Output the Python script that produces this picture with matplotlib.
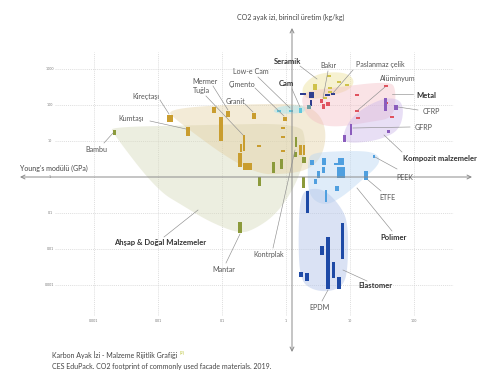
import matplotlib
matplotlib.use('Agg')
import matplotlib.pyplot as plt
from matplotlib.transforms import Affine2D
import numpy as np

plt.rcParams['font.family'] = ['Lato', 'DejaVu Sans']

# material boxes: (E low, E high, CO2 low, CO2 high)  E in GPa, CO2 in kg/kg
stone = [
    (0.014, 0.017, 34, 53),       # Kireçtaşı
    (0.027, 0.032, 14, 24),       # Kumtaşı
    (0.070, 0.081, 60, 88),
    (0.115, 0.133, 46, 68),       # Mermer
    (0.090, 0.104, 10, 46),
    (0.29, 0.34, 41, 60),         # Granit
    (0.21, 0.23, 5.3, 14.7),      # Tuğla
    (0.188, 0.209, 5.0, 8.2),
    (0.181, 0.202, 1.9, 4.6),
    (0.213, 0.294, 1.56, 2.45),
    (0.90, 1.04, 36, 46),         # Çimento
    (0.835, 0.965, 21.5, 24.5),
    (0.835, 0.965, 12.1, 13.8),
    (0.835, 0.965, 4.95, 5.6),
    (0.35, 0.41, 6.8, 7.7),
    (1.62, 1.75, 4.1, 7.7),
    (1.84, 1.98, 4.1, 7.7),
]
wood = [
    (0.00195, 0.00217, 14.7, 20.2),  # Bambu
    (0.181, 0.202, 0.028, 0.056),    # Mantar
    (0.36, 0.40, 0.56, 1.0),
    (0.615, 0.685, 1.29, 2.61),
    (0.81, 0.91, 1.67, 3.16),
    (1.36, 1.51, 6.8, 12.9),
    (1.31, 1.46, 3.6, 4.95),
    (1.81, 2.02, 2.45, 3.6),
    (1.75, 1.95, 0.49, 1.0),         # Kontrplak
]
glass = [
    (0.72, 0.835, 64, 72.6),
    (1.11, 1.29, 64, 72.6),
    (1.62, 1.81, 60, 82.5),
]
ceramic = [
    (2.64, 3.05, 261, 383),
    (4.37, 5.05, 600, 681),
    (6.26, 7.23, 408, 464),
    (8.35, 9.64, 337, 383),
    (4.53, 5.23, 278, 316),
    (4.53, 5.23, 215, 245),
    (3.79, 4.37, 147, 167),
]
dark_metal = [
    (1.66, 2.05, 190, 215),
    (2.25, 2.69, 156, 230),
    (2.33, 2.59, 94, 138),
    (4.0, 4.79, 178, 202),
    (5.05, 5.83, 190, 215),
]
teal = [(2.13, 2.46, 77, 100)]
metal = [
    (3.34, 3.72, 114, 147),
    (3.59, 4.0, 77, 107),
    (4.29, 4.79, 94, 121),
    (12.0, 13.8, 178, 202),
    (34, 39.3, 316, 359),        # Alüminyum
    (12.0, 13.8, 64, 72.6),
    (12.4, 14.3, 40.8, 46.4),
    (42.2, 48.7, 43.6, 49.6),
    (36.5, 39.3, 107, 121),
]
composite = [
    (33.4, 37.2, 68, 156),       # CFRP
    (48.7, 56.2, 72.6, 100),
    (9.83, 10.9, 14.7, 29.7),    # GFRP
    (7.64, 8.51, 9.4, 14.7),
    (38.5, 42.9, 16.7, 20.2),
]
polymer = [
    (2.37, 2.74, 2.15, 2.97),
    (3.59, 4.22, 2.15, 3.37),
    (3.59, 4.0, 1.29, 1.9),
    (3.0, 3.34, 0.94, 1.47),
    (2.69, 3.0, 0.64, 0.88),
    (5.62, 6.49, 2.15, 2.45),
    (6.49, 8.06, 2.15, 3.37),
    (6.26, 8.35, 0.94, 1.9),
    (16.5, 19.1, 0.825, 1.47),   # ETFE
    (22.5, 25.0, 3.37, 4.08),    # PEEK
    (5.83, 6.73, 0.41, 0.56),
    (4.0, 4.45, 0.2, 0.435),
]
elastomer = [
    (2.02, 2.25, 0.1, 0.408),
    (7.36, 8.2, 0.00527, 0.0528),
    (4.29, 4.79, 0.00077, 0.0216),  # EPDM
    (3.4, 3.93, 0.0068, 0.0121),
    (5.14, 5.73, 0.00156, 0.00435),
    (6.26, 7.23, 0.00077, 0.00167),
    (1.6, 1.84, 0.00167, 0.0023),
    (1.98, 2.29, 0.00129, 0.00215),
]

# family envelopes, outline points as (log10 E, log10 CO2)
env_wood = [(-2.72, 1.39), (-1.34, 1.44), (0.22, 1.50), (0.31, 1.03), (0.27, 0.33),
            (0.09, -0.42), (-0.17, -1.06), (-0.48, -1.44), (-0.72, -1.58),
            (-1.19, -1.25), (-1.58, -0.83), (-2.02, -0.36), (-2.72, 1.25)]
env_stone = [(-1.81, 1.86), (-1.34, 1.97), (-0.41, 2.03), (0.22, 2.03), (0.50, 1.81),
             (0.63, 1.31), (0.59, 0.69), (0.41, 0.25), (0.06, 0.08), (-0.56, 0.08),
             (-1.81, 1.69)]
env_ceramic = [(0.27, 2.58), (0.50, 2.89), (0.92, 2.92), (1.08, 2.69), (1.0, 2.42),
               (0.69, 2.25), (0.38, 2.14), (0.25, 2.28)]
env_metal = [(0.22, 2.36), (0.69, 2.47), (1.63, 2.67), (1.72, 2.42), (1.69, 1.64),
             (1.31, 1.53), (0.84, 1.39), (0.53, 1.44), (0.30, 1.72)]
env_glass = [(-0.20, 1.86), (-0.09, 1.97), (0.22, 2.0), (0.31, 1.92), (0.28, 1.78),
             (-0.02, 1.75), (-0.17, 1.78)]
env_comp = [(0.88, 0.94), (0.92, 1.36), (1.09, 1.78), (1.47, 2.17), (1.75, 2.19),
            (1.84, 1.92), (1.80, 1.44), (1.66, 1.17), (1.31, 0.97)]
env_poly = [(0.34, 0.47), (0.41, 0.67), (0.84, 0.72), (1.31, 0.72), (1.47, 0.56),
            (1.44, 0.31), (1.19, -0.08), (0.92, -0.5), (0.66, -0.78), (0.45, -0.69),
            (0.34, -0.36)]
env_elast = [(0.22, -0.5), (0.38, -0.31), (0.61, -0.36), (0.84, -0.78), (0.97, -1.25),
             (0.97, -2.44), (0.91, -3.0), (0.69, -3.19), (0.41, -3.14), (0.22, -2.86),
             (0.19, -1.75)]

x_ticks = [0.001, 0.01, 0.1, 1, 10, 100]
x_tick_labels = ['0.001', '0.01', '0.1', '1', '10', '100']
y_ticks = [1000, 100, 10, 1, 0.1, 0.01, 0.001]
y_tick_labels = ['1000', '100', '10', '1', '0.1', '0.01', '0.001']

W, H = 500, 379


def E_at(px):
    return 10 ** ((px - 286) / 64.0)


def C_at(py):
    return 10 ** ((177 - py) / 36.0)


def smooth(pts, n=4):
    p = np.asarray(pts, float)
    for _ in range(n):
        q = np.roll(p, -1, axis=0)
        p = np.stack([0.75 * p + 0.25 * q, 0.25 * p + 0.75 * q], axis=1).reshape(-1, 2)
    return p


fig = plt.figure(figsize=(5, 3.79), dpi=100)
ax = fig.add_axes([0, 0, 1, 1])
ax.set_xscale('log')
ax.set_yscale('log')
pix = Affine2D().scale(1.0 / W, -1.0 / H).translate(0, 1) + fig.transFigure

# grid
ax.hlines([t for t in y_ticks if t != 1], E_at(55), E_at(453), colors='#d2d2d2',
          linestyles=(0, (1.5, 1.5)), lw=0.5, zorder=0)
ax.vlines(x_ticks, C_at(315), C_at(52), colors='#d2d2d2',
          linestyles=(0, (1.5, 1.5)), lw=0.5, zorder=0)

envs = [(env_wood, '#d7dabb', 0.45), (env_stone, '#e2cd9c', 0.4),
        (env_ceramic, '#ede29a', 0.45), (env_metal, '#f3b9c1', 0.4),
        (env_glass, '#a8e3f0', 0.5), (env_comp, '#cdb8ea', 0.45),
        (env_poly, '#b9d6f3', 0.45), (env_elast, '#b6c7ea', 0.5)]
for pts, col, a in envs:
    s = smooth(pts)
    ax.fill(10 ** s[:, 0], 10 ** s[:, 1], color=col, alpha=a, lw=0, zorder=1)

groups = [(stone, '#c99d2f'), (wood, '#8b9a3b'), (glass, '#5fc6dc'),
          (ceramic, '#cfc24a'), (dark_metal, '#2f3d8f'), (teal, '#6f9ea3'),
          (metal, '#e0535f'), (composite, '#8a5cbd'), (polymer, '#4f9fdf'),
          (elastomer, '#1e4aa6')]
for boxes, col in groups:
    b = np.array(boxes, float)
    ax.bar(b[:, 0], b[:, 3] - b[:, 2], width=b[:, 1] - b[:, 0], bottom=b[:, 2],
           align='edge', color=col, lw=0, zorder=3)

ax.set_xlim(E_at(0), E_at(W))
ax.set_ylim(C_at(H), C_at(0))
ax.set_axis_off()

# axes arrows
arr = dict(arrowstyle='<->', color='#8a8a8a', lw=0.7, shrinkA=0, shrinkB=0, mutation_scale=7)
ax.annotate('', xy=(472, 177), xytext=(20, 177), xycoords=pix, textcoords=pix, arrowprops=arr)
ax.annotate('', xy=(292, 28), xytext=(292, 352), xycoords=pix, textcoords=pix, arrowprops=arr)

for t, lab in zip(y_ticks, y_tick_labels):
    ax.text(E_at(50), t, lab, fontsize=2.6, color='#777', ha='center', va='center')
for t, lab in zip(x_ticks, x_tick_labels):
    ax.text(t, C_at(321), lab, fontsize=2.6, color='#777', ha='center', va='center')

fig.text(291, 17, 'CO2 ayak izi, birincil üretim (kg/kg)', transform=pix, fontsize=5.0,
         color='#444', ha='center', va='center')
fig.text(20, 168, "Young's modülü (GPa)", transform=pix, fontsize=5.0,
         color='#444', ha='left', va='center')

labels = [
    ('Bambu', 96, 149, False, (104, 143, 113, 133)),
    ('Kumtaşı', 131, 118, False, (150, 121, 186, 129)),
    ('Kireçtaşı', 146, 96, False, (160, 100, 169, 114)),
    ('Mermer', 205, 81, False, (213, 86, 228, 110)),
    ('Tuğla', 201, 91, False, (206, 96, 243, 135)),
    ('Çimento', 242, 85, False, (255, 88, 284, 116)),
    ('Granit', 236, 101, False, (245, 104, 253, 112)),
    ('Low-e Cam', 251, 72, False, (258, 77, 290, 108)),
    ('Cam', 286, 84, True, (292, 89, 300, 107)),
    ('Seramik', 288, 62, True, (300, 66, 317, 79)),
    ('Bakır', 328, 66, False, (328, 71, 323, 98)),
    ('Paslanmaz çelik', 380, 65, False, (353, 70, 333, 93)),
    ('Alüminyum', 398, 78, False, (385, 87, 358, 110)),
    ('Metal', 426, 95, True, (392, 94, 413, 94)),
    ('CFRP', 431, 111, False, (398, 107, 418, 110)),
    ('GFRP', 424, 128, False, (353, 128, 410, 127)),
    ('Kompozit malzemeler', 440, 158, True, (384, 135, 402, 152)),
    ('PEEK', 405, 177, False, (375, 157, 397, 169)),
    ('ETFE', 387, 197, False, (368, 180, 381, 191)),
    ('Polimer', 394, 238, True, (357, 188, 392, 231)),
    ('Elastomer', 375, 286, True, (343, 270, 367, 281)),
    ('EPDM', 320, 307, False, (328, 290, 322, 301)),
    ('Kontrplak', 269, 255, False, (273, 248, 295, 150)),
    ('Mantar', 224, 269, False, (226, 263, 240, 234)),
    ('Ahşap & Doğal Malzemeler', 160, 242, True, (164, 237, 198, 210)),
]
for txt, x, y, bold, ln in labels:
    ax.plot([ln[0], ln[2]], [ln[1], ln[3]], transform=pix, color='#8f8f8f', lw=0.45,
            clip_on=False, zorder=4)
    fig.text(x, y, txt, transform=pix, ha='center', va='center',
             fontsize=5.5 if bold else 5.1, fontweight='bold' if bold else 'normal',
             color='#333' if bold else '#555')

cap = fig.text(52, 355, 'Karbon Ayak İzi - Malzeme Rijitlik Grafiği', transform=pix,
               fontsize=5.0, color='#444', ha='left', va='center')
fig.text(52, 366, 'CES EduPack. CO2 footprint of commonly used facade materials. 2019.',
         transform=pix, fontsize=5.0, color='#444', ha='left', va='center')

# superscript reference mark right after the first caption line
fig.canvas.draw()
bb = cap.get_window_extent()
fig.text(bb.x1 + 2, H - 352, '[2]', transform=None, fontsize=3.0, color='#b7c02c',
         ha='left', va='center')

fig.savefig('out.png', dpi=100)
plt.close(fig)
